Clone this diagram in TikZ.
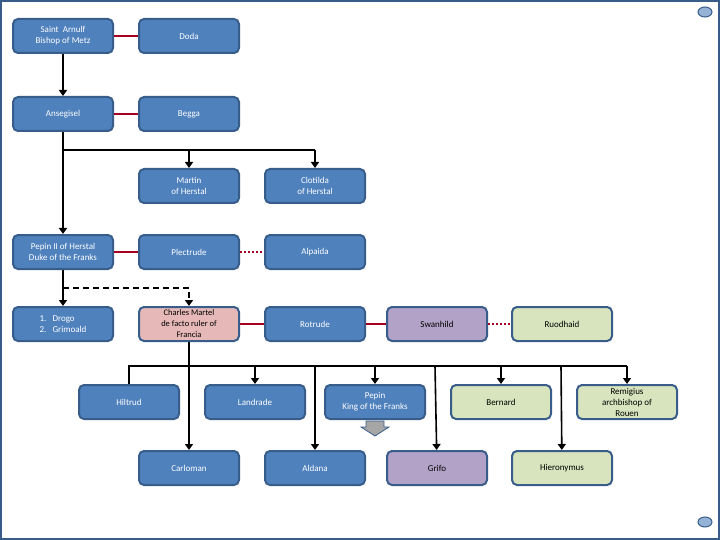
\documentclass[tikz,border=0pt]{standalone}
\usepackage{fontspec}
\setmainfont{Carlito}
\usetikzlibrary{arrows.meta,shapes.geometric}
\definecolor{bfill}{HTML}{4F81BD}
\definecolor{bdraw}{HTML}{385D8A}
\definecolor{pinkf}{HTML}{E6B9B8}
\definecolor{purpf}{HTML}{B3A2C7}
\definecolor{greenf}{HTML}{D7E4BD}
\definecolor{redl}{HTML}{A50021}
\begin{document}
\begin{tikzpicture}[x=1pt,y=-1pt,
 box/.style={draw=bdraw,line width=2pt,rounded corners=5pt,minimum width=100pt,minimum height=34pt,fill=bfill,text=white,align=center,font=\fontsize{9}{11}\selectfont,inner sep=1pt},
 pk/.style={box,fill=pinkf,text=black},
 pu/.style={box,fill=purpf,text=black},
 gr/.style={box,fill=greenf,text=black},
 mar/.style={redl,line width=2pt},
 dot/.style={redl,line width=2pt,dotted},
 ar/.style={line width=1.6pt,-{Triangle[width=8pt,length=6pt]}},
 ln/.style={line width=1.6pt}]
\useasboundingbox (0,0) rectangle (720,540);
\draw[bdraw,line width=2pt] (1,1) rectangle (719,539);
\node[draw=bdraw,fill=bfill!60,ellipse,minimum width=14pt,minimum height=10pt,inner sep=0pt,line width=1pt] (i1) at (705,12) {};
\node[draw=bdraw,fill=bfill!60,ellipse,minimum width=14pt,minimum height=10pt,inner sep=0pt,line width=1pt] (i2) at (705,522) {};
\node[box] (arn) at (63,36) {Saint\ \ Arnulf\\Bishop of Metz};
\node[box] (dod) at (189,36) {Doda};
\node[box] (ans) at (63,114) {Ansegisel};
\node[box] (beg) at (189,114) {Begga};
\node[box] (mar) at (189,186) {Martin\\of Herstal};
\node[box] (clo) at (315,186) {Clotilda\\of Herstal};
\node[box] (pep) at (63,252) {Pepin II of Herstal\\Duke of the Franks};
\node[box] (ple) at (189,252) {Plectrude};
\node[box] (alp) at (315,252) {Alpaida};
\node[box,align=left] (dro) at (63,324) {1.\ \ \ Drogo\\2.\ \ \ Grimoald};
\node[pk,font=\fontsize{8.5}{11}\selectfont] (cha) at (189,324) {Charles Martel\\de facto ruler of\\Francia};
\node[box] (rot) at (315,324) {Rotrude};
\node[pu] (swa) at (437,324) {Swanhild};
\node[gr] (ruo) at (562,324) {Ruodhaid};
\node[box] (hil) at (129,402) {Hiltrud};
\node[box] (lan) at (255,402) {Landrade};
\node[box] (pek) at (375,402) {Pepin\\King of the Franks};
\node[gr] (ber) at (501,402) {Bernard};
\node[gr] (rem) at (627,402) {Remigius\\archbishop of\\Rouen};
\node[box] (car) at (189,468) {Carloman};
\node[box] (ald) at (315,468) {Aldana};
\node[pu] (gri) at (437,468) {Grifo};
\node[gr] (hie) at (562,468) {Hieronymus};
\fill[gray!70,draw=bdraw,line width=0.8pt] (366,421) -- (384,421) -- (384,427) -- (389,427) -- (375,436) -- (361,427) -- (366,427) -- cycle;
% marriages
\draw[mar] (arn) -- (dod);
\draw[mar] (ans) -- (beg);
\draw[mar] (pep) -- (ple);
\draw[dot] (ple) -- (alp);
\draw[mar] (cha) -- (rot);
\draw[mar] (rot) -- (swa);
\draw[dot] (swa) -- (ruo);
% descent
\draw[ar] (arn) -- (ans);
\draw[ar] (ans) -- (pep);
\coordinate (b1) at (63,150);
\draw[ln] (b1) -- (315,150);
\draw[ar] (189,150) -- (mar);
\draw[ar] (315,150) -- (clo);
\draw[ar] (pep) -- (dro);
\draw[line width=1.6pt,dashed,dash pattern=on 6pt off 4pt,-{Triangle[width=8pt,length=6pt]}] (63,288) -- (189,288) -- (cha);
\draw[ar] (cha) -- (car);
\draw[ln] (hil.north) -- (129,366) -- (627,366);
\draw[ar] (255,366) -- (lan);
\draw[ar] (375,366) -- (pek);
\draw[ar] (501,366) -- (ber);
\draw[ar] (627,366) -- (rem);
\draw[ar] (315,366) -- (ald);
\draw[ar] (435,366) -- (gri);
\draw[ar] (561,366) -- (hie);
\end{tikzpicture}
\end{document}
